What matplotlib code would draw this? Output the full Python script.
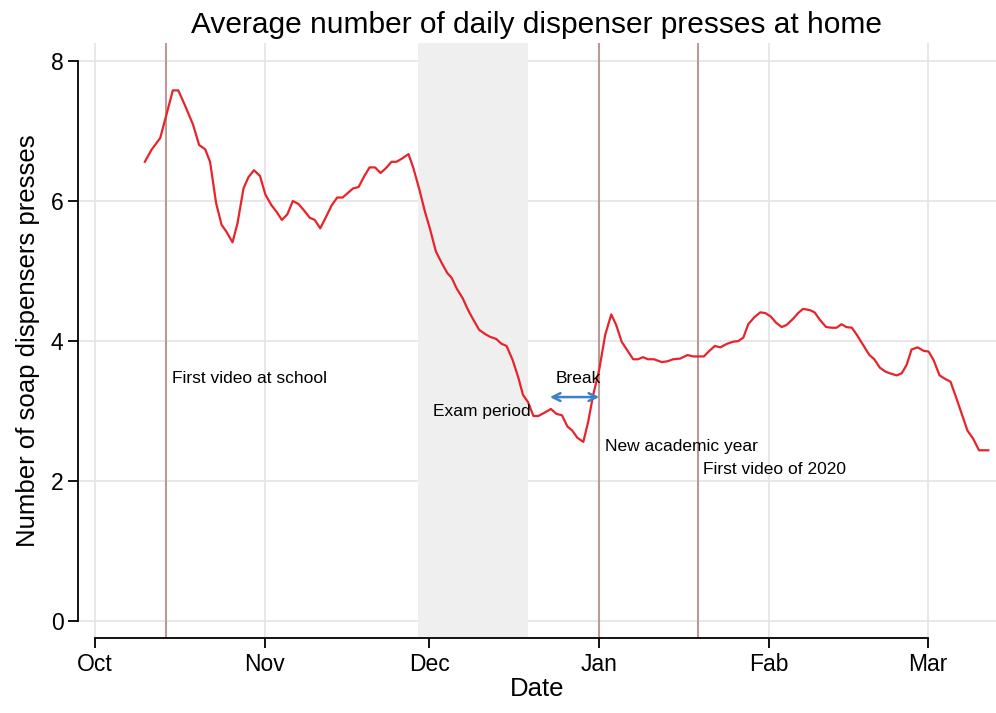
import matplotlib
matplotlib.use("Agg")
import matplotlib.pyplot as plt
import matplotlib.dates as mdates
import pandas as pd

plt.rcParams['font.family'] = ['Liberation Sans', 'DejaVu Sans']

start = pd.Timestamp('2019-10-01')

# days since 1 Oct 2019
days = [9.1, 10.3, 11.9, 13.1, 14.2, 15.2, 16.4, 17.9, 19.0, 20.1, 21.0, 22.1, 23.1, 24.0,
        25.1, 26.0, 27.1, 28.0, 29.0, 30.1, 31.1, 32.2, 33.1, 34.1, 35.1, 36.1, 37.1, 38.1,
        39.2, 40.1, 41.1, 42.2, 43.2, 44.2, 45.2, 46.2, 47.1, 48.1, 49.1, 50.1, 51.1, 52.1,
        53.1, 54.1, 55.0, 56.1, 57.2, 58.1, 59.2, 60.2, 61.1, 62.2, 63.3, 64.3, 65.1, 66.0,
        67.1, 68.1, 69.0, 70.1, 71.2, 72.1, 73.2, 74.2, 75.1, 76.2, 77.2, 78.1, 79.0, 80.0,
        80.9, 82.1, 83.2, 84.2, 85.2, 86.2, 87.1, 88.0, 89.1, 90.0, 90.9, 92.0, 93.1, 94.2,
        95.1, 96.1, 97.1, 98.2, 99.1, 100.0, 100.9, 102.0, 103.4, 104.4, 105.5, 106.8, 108.1,
        109.2, 111.1, 112.1, 113.1, 114.1, 115.3, 116.4, 117.4, 118.3, 119.2, 120.3, 121.4,
        122.3, 123.3, 124.3, 125.3, 126.2, 127.4, 128.3, 129.2, 130.5, 131.3, 132.3, 133.4,
        134.4, 135.3, 136.2, 137.1, 138.1, 139.0, 140.2, 141.3, 142.2, 143.2, 144.3, 145.4,
        146.3, 147.2, 148.1, 149.0, 150.1, 151.2, 152.1, 153.0, 154.1, 155.1, 156.1, 157.1,
        158.1, 159.2, 160.2, 161.3, 163.0]
presses = [6.56, 6.73, 6.90, 7.25, 7.58, 7.58, 7.37, 7.09, 6.80, 6.74, 6.56, 5.97, 5.66, 5.56,
           5.41, 5.68, 6.18, 6.34, 6.44, 6.36, 6.09, 5.94, 5.85, 5.73, 5.81, 6.00, 5.96, 5.87,
           5.76, 5.73, 5.61, 5.78, 5.94, 6.05, 6.05, 6.12, 6.18, 6.20, 6.35, 6.48, 6.48, 6.40,
           6.47, 6.56, 6.56, 6.61, 6.67, 6.47, 6.16, 5.85, 5.61, 5.28, 5.11, 4.97, 4.90, 4.75,
           4.61, 4.44, 4.31, 4.16, 4.10, 4.06, 4.03, 3.96, 3.93, 3.73, 3.49, 3.23, 3.13, 2.93,
           2.93, 2.98, 3.03, 2.96, 2.94, 2.78, 2.72, 2.62, 2.56, 2.85, 3.23, 3.59, 4.09, 4.38,
           4.23, 3.99, 3.87, 3.74, 3.74, 3.77, 3.74, 3.74, 3.70, 3.71, 3.74, 3.75, 3.80,
           3.78, 3.78, 3.86, 3.93, 3.91, 3.96, 3.99, 4.00, 4.05, 4.24, 4.34, 4.41,
           4.40, 4.35, 4.26, 4.20, 4.23, 4.32, 4.40, 4.46, 4.44, 4.41, 4.30, 4.20,
           4.19, 4.19, 4.24, 4.20, 4.19, 4.09, 3.94, 3.80, 3.74, 3.62, 3.56, 3.53,
           3.51, 3.54, 3.66, 3.88, 3.91, 3.86, 3.85, 3.73, 3.51, 3.46, 3.42, 3.20,
           2.97, 2.72, 2.61, 2.44, 2.44]

event_dates = ['2019-10-14', '2020-01-01', '2020-01-19']
exam_start, exam_end = '2019-11-29', '2019-12-19'
month_ticks = ['2019-10-01', '2019-11-01', '2019-12-01', '2020-01-01', '2020-02-01', '2020-03-01']
month_labels = ['Oct', 'Nov', 'Dec', 'Jan', 'Fab', 'Mar']

dates = start + pd.to_timedelta(days, unit='D')

fig = plt.figure(figsize=(9.96, 7.13), dpi=100)
ax = fig.add_axes([0.0783, 0.105, 0.9217, 0.8347])

ax.axvspan(pd.Timestamp(exam_start), pd.Timestamp(exam_end), color='#efefef', zorder=1, lw=0)
for d in event_dates:
    ax.axvline(pd.Timestamp(d), color='#bc9a98', lw=1.5, zorder=2)

ax.plot(dates, presses, color='#e8232a', lw=1.6, zorder=3)

# annotations
ax.text(pd.Timestamp('2019-10-15'), 3.47, 'First video at school', fontsize=12.5, va='center')
ax.text(pd.Timestamp('2019-12-01 18:00'), 2.99, 'Exam period', fontsize=12.5, va='center')
ax.text(pd.Timestamp('2019-12-24'), 3.47, 'Break', fontsize=12.5, va='center')
ax.annotate('', xy=(pd.Timestamp('2020-01-01'), 3.2), xytext=(pd.Timestamp('2019-12-23'), 3.2),
            arrowprops=dict(arrowstyle='<->', color='#3f80c4', lw=1.8,
                            shrinkA=0, shrinkB=0, mutation_scale=14))
ax.text(pd.Timestamp('2020-01-02'), 2.49, 'New academic year', fontsize=12.5, va='center')
ax.text(pd.Timestamp('2020-01-20'), 2.17, 'First video of 2020', fontsize=12.5, va='center')

ax.set_xlim(start - pd.Timedelta(days=3.1), pd.Timestamp('2020-03-01') + pd.Timedelta(days=12.4))
ax.set_ylim(-0.243, 8.257)

ax.set_xticks([pd.Timestamp(t) for t in month_ticks])
ax.set_xticklabels(month_labels)
ax.set_yticks([0, 2, 4, 6, 8])
ax.grid(color='#e6e6e6', lw=1.3, zorder=0)
ax.set_axisbelow(True)

for s in ['top', 'right']:
    ax.spines[s].set_visible(False)
ax.spines['left'].set_bounds(0, 8)
ax.spines['bottom'].set_bounds(mdates.date2num(pd.Timestamp(month_ticks[0])),
                               mdates.date2num(pd.Timestamp(month_ticks[-1])))
for s in ['left', 'bottom']:
    ax.spines[s].set_linewidth(1.3)
ax.tick_params(axis='both', labelsize=16.5, length=7, width=1.3)

ax.set_xlabel('Date', fontsize=18.5, labelpad=1)
ax.set_ylabel('Number of soap dispensers presses', fontsize=18.5, labelpad=8)
ax.set_title('Average number of daily dispenser presses at home', fontsize=21.5, pad=7)

fig.savefig('out.png', dpi=100)
